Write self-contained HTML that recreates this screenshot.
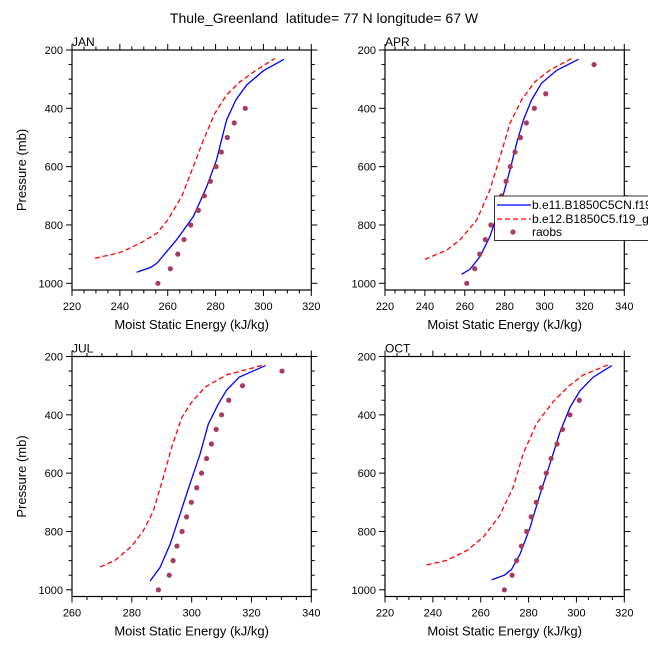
<!DOCTYPE html>
<html><head><meta charset="utf-8"><style>
body{margin:0;background:#fff;}
svg{display:block;font-family:"Liberation Sans",sans-serif;}
</style></head><body>
<svg id="chart" width="648" height="648" viewBox="0 0 648 648" xmlns="http://www.w3.org/2000/svg">
<text x="324" y="23" text-anchor="middle" font-size="14" style="white-space:pre">Thule_Greenland  latitude= 77 N longitude= 67 W</text>
</svg>
<script>
const months = ["JAN","APR","JUL","OCT"];
const xRanges = [[220,320],[220,340],[260,340],[220,320]];
const pLevelsModelJan = [962,945,931,851,771,669,577,440,371,320,271,232];
const blueJan = [247,253,255.5,263.7,270.7,276.3,280.4,284.6,288.5,293,300,308.6];
const pRedJan = [914,895,863,829,783,703,600,509,417,354,309,269,229];
const redJan = [229.6,240,248.4,255.4,260,265.8,270.7,274.9,279.7,284.6,290.2,297,304.8];
const pObsJan = [1000,950,900,850,800,750,700,650,600,550,500,450,400];
const obsJan = [255.9,261.1,264.2,266.8,269.6,272.8,275.3,277.8,280.2,282.4,284.9,287.8,292.4];

const pBlueApr = [969,952,909,840,737,611,520,440,371,314,270,232];
const blueApr = [258.4,262.6,267.6,272.6,277.7,282.7,286,289.4,293.5,298.5,306,317];
const pRedApr = [918,886,851,783,680,566,451,371,309,269,229];
const redApr = [240,251,257.6,266,272.6,277.7,282.7,288.5,295.2,302.7,313.6];
const pObsApr = [1000,950,900,850,800,750,700,650,600,550,500,450,400,350,250];
const obsApr = [261,265,267.5,270.3,273.1,276,278.5,280.7,282.8,285.2,287.9,290.9,294.9,300.6,324.8];

const pBlueJul = [970,924,844,741,638,535,431,363,315,271,231];
const blueJul = [286.1,289.4,292.8,296.1,299.4,302.8,305.6,308.9,311.7,315.9,324.7];
const pRedJul = [922,899,850,798,730,615,512,409,357,305,263,228];
const redJul = [269.4,274.4,280,283.8,287.2,290.5,293.3,296.7,300,304.5,311.7,324.5];
const pObsJul = [1000,950,900,850,800,750,700,650,600,550,500,450,400,350,300,250];
const obsJul = [288.9,292.5,293.8,295.1,296.8,298.3,299.9,301.7,303.3,305,306.6,308.2,310,312.4,317,330.2];

const pBlueOct = [966,949,930,878,787,672,569,460,374,317,271,231];
const blueOct = [264.6,270.1,272.9,276.4,280.6,284.8,288.9,293.1,297.3,301.5,307,314.8];
const pRedOct = [915,899,865,819,745,647,532,429,355,303,263,226];
const redOct = [237.4,245.8,254.3,261.1,268,273.6,277.8,283.4,290.3,296.6,302.9,314];
const pObsOct = [1000,950,900,850,800,750,700,650,600,550,500,450,400,350];
const obsOct = [269.9,273.1,275,277,279.2,281.1,283.2,285.3,287.4,289.4,291.9,294.2,297.3,301.2];

const yTicks = [200,400,600,800,1000];
const legendLabels = ["b.e11.B1850C5CN.f19_g16.001","b.e12.B1850C5.f19_g16.001","raobs"];

const series = [
 {pb:pLevelsModelJan,b:blueJan,pr:pRedJan,r:redJan,po:pObsJan,o:obsJan},
 {pb:pBlueApr,b:blueApr,pr:pRedApr,r:redApr,po:pObsApr,o:obsApr},
 {pb:pBlueJul,b:blueJul,pr:pRedJul,r:redJul,po:pObsJul,o:obsJul},
 {pb:pBlueOct,b:blueOct,pr:pRedOct,r:redOct,po:pObsOct,o:obsOct}
];
const NS="http://www.w3.org/2000/svg";
const svg=document.getElementById('chart');
function mk(tag,attrs,parent){const e=document.createElementNS(NS,tag);for(const k in attrs)e.setAttribute(k,attrs[k]);(parent||svg).appendChild(e);return e;}
const boxes=[[72,50],[385,50],[72,356.5],[385,356.5]];
const W=239.3, pTop=200, pBot=1023, pxPerMb=233.3/800;
for(let i=0;i<4;i++){
 const [L,T]=boxes[i]; const [x0,x1]=xRanges[i];
 const H=(pBot-pTop)*pxPerMb;
 const g=mk('g',{});
 
 
 const X=v=>L+(v-x0)/(x1-x0)*W;
 const Y=p=>T+(p-pTop)*pxPerMb;
 const lab=mk('text',{x:L,y:T-4,'font-size':12},g); lab.textContent=months[i];
 
 
 const tg=mk('g',{stroke:'#000','stroke-width':1},g);
 
 
 for(let v=x0;v<=x1+0.01;v+=5){const maj=((v-x0)%20===0);const len=maj?6:3.5;const x=X(v);
  mk('line',{x1:x,x2:x,y1:T+H,y2:T+H+len},tg);mk('line',{x1:x,x2:x,y1:T,y2:T-len},tg);
  if(maj){const t=mk('text',{x:x,y:T+H+20,'font-size':11,'text-anchor':'middle',stroke:'none'},g);t.textContent=v;
   
   }}
 for(let p=200;p<=1000;p+=50){const maj=(p%200===0);const len=maj?6:3.5;const y=Y(p);
  mk('line',{x1:L,x2:L-len,y1:y,y2:y},tg);mk('line',{x1:L+W,x2:L+W+len,y1:y,y2:y},tg);}
 yTicks.forEach(p=>{const t=mk('text',{x:L-9,y:Y(p)+4,'font-size':11,'text-anchor':'end'},g);t.textContent=p;
  
  });
 const fr=mk('rect',{x:L,y:T,width:W,height:H,fill:'none',stroke:'#000','stroke-width':1.2},g);
 
 
 const s=series[i];
 const red=mk('polyline',{points:s.r.map((v,k)=>X(v)+','+Y(s.pr[k])).join(' '),fill:'none',stroke:'#ff0000','stroke-width':1.3,'stroke-dasharray':'5,3'},g);
 
 
 const blue=mk('polyline',{points:s.b.map((v,k)=>X(v)+','+Y(s.pb[k])).join(' '),fill:'none',stroke:'#0000ff','stroke-width':1.3},g);
 
 
 s.o.forEach((v,k)=>{const c=mk('circle',{cx:X(v),cy:Y(s.po[k]),r:2.6,fill:'#a83a5c'},g);
  
  });
 const xt=mk('text',{x:L+W/2,y:T+H+39,'font-size':13,'text-anchor':'middle'},g);xt.textContent='Moist Static Energy (kJ/kg)';
 
 
 if(i%2===0){const yt=mk('text',{x:0,y:0,'font-size':13,'text-anchor':'middle',transform:`translate(26,${T+H/2}) rotate(-90)`},g);yt.textContent='Pressure (mb)';
  
  }
}
const lg=mk('g',{});


mk('rect',{x:494.5,y:196,width:160,height:44.5,fill:'#fff',stroke:'#000','stroke-width':0.8},lg);
const rowsY=[205,219,232];
mk('line',{x1:497,x2:531,y1:rowsY[0],y2:rowsY[0],stroke:'#0000ff','stroke-width':1.3},lg);
mk('line',{x1:497,x2:531,y1:rowsY[1],y2:rowsY[1],stroke:'#ff0000','stroke-width':1.3,'stroke-dasharray':'5,3'},lg);
mk('circle',{cx:513,cy:rowsY[2],r:2.6,fill:'#a83a5c'},lg);
legendLabels.forEach((t,k)=>{const e=mk('text',{x:532,y:rowsY[k]+4,'font-size':12},lg);e.textContent=t;
 
 });
</script>
</body></html>
